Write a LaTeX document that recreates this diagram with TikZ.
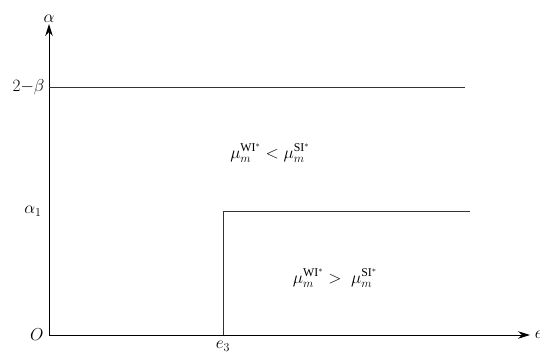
\documentclass[tikz,border=0pt]{standalone}
\usepackage{amsmath,amssymb}
\usepackage{fontspec}
\setmainfont{Liberation Serif}
\usetikzlibrary{arrows.meta}

\begin{document}
\begin{tikzpicture}[x=1pt,y=1pt,font=\fontsize{17}{20}\selectfont,
  axis/.style={line width=0.9pt,-{Stealth[length=12pt,width=7.5pt]}},
  bound/.style={line width=0.8pt,black!80}]
\useasboundingbox (0,0) rectangle (540,359);
% axes
\coordinate (O) at (49,24);
\coordinate (ytop) at (49,335);
\coordinate (xend) at (530,24);
\draw[axis] (O) -- (ytop) node[above,inner sep=1pt] {$\alpha$};
\draw[axis] (O) -- (xend) node[right,xshift=1pt] {$e$};
\node[left,xshift=-2pt] at (O) {$O$};
% upper boundary 2-beta
\coordinate (b0) at (49,272);
\coordinate (b1) at (465,272);
\draw[bound] (b0) -- (b1);
\node[left,xshift=-1pt] at (b0) {$2{-}\beta$};
% lower region boundary
\coordinate (a0) at (49,148);
\coordinate (e3) at (223,24);
\coordinate (c) at (223,148);
\coordinate (a1) at (470,148);
\draw[bound] (e3) -- (c) -- (a1);
\node[left,xshift=-4pt] at (a0) {$\alpha_1$};
\node[below,inner sep=6pt] at (e3) {$e_3$};
% regions
\node at (270,206) {$\mu_m^{\text{WI}^*} < \mu_m^{\text{SI}^*}$};
\node at (335,81) {$\mu_m^{\text{WI}^*} > \;\mu_m^{\text{SI}^*}$};
\end{tikzpicture}
\end{document}
